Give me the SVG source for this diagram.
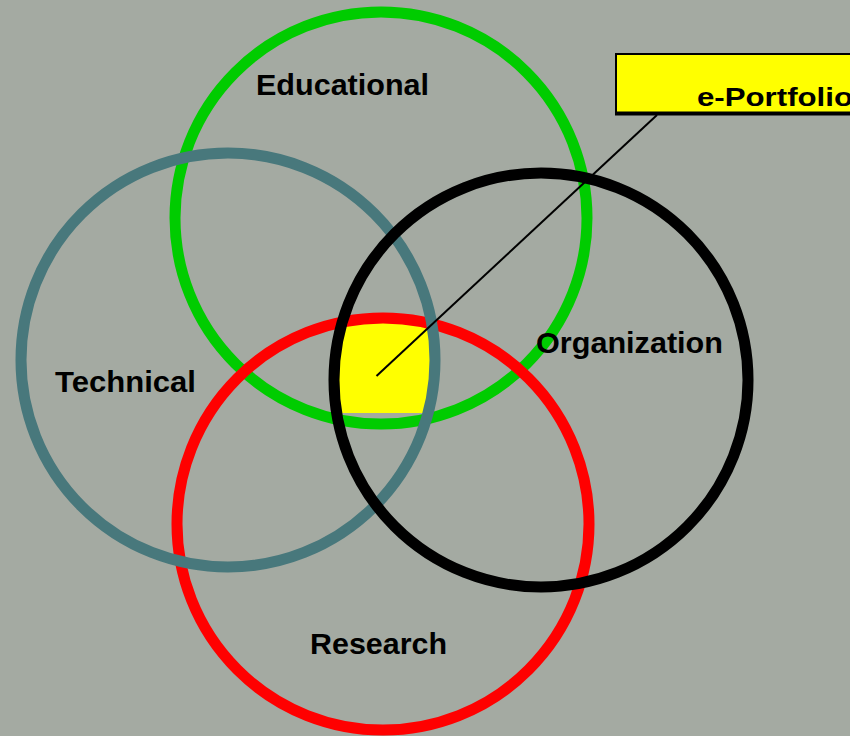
<svg xmlns="http://www.w3.org/2000/svg" width="850" height="736" viewBox="0 0 850 736">
<style>
.ring{fill:none;stroke-width:11}
.lbl{font-family:"Liberation Sans",Arial,sans-serif;font-weight:bold;font-size:30px;fill:#000}
</style>
<rect x="0" y="0" width="850" height="736" fill="#A4AAA2"/>
<g id="core">
<path d="M343,322 A206,206 0 0,1 431.8,323.8 A207,207 0 0,1 428.1,413 L336.6,413 A207,207 0 0,1 343,322 Z" fill="#FFFF00"/>
</g>
<g id="educational">
<circle class="ring" cx="381" cy="218" r="206" stroke="#00CC00"/>
<text class="lbl" x="256" y="95" textLength="173" lengthAdjust="spacingAndGlyphs">Educational</text>
</g>
<g id="research">
<circle class="ring" cx="383" cy="524" r="206" stroke="#FF0000"/>
<text class="lbl" x="310" y="654" textLength="137" lengthAdjust="spacingAndGlyphs">Research</text>
</g>
<g id="technical">
<circle class="ring" cx="228" cy="360" r="207" stroke="#48787C"/>
<text class="lbl" x="55" y="392" textLength="141" lengthAdjust="spacingAndGlyphs">Technical</text>
</g>
<g id="organization">
<circle class="ring" cx="541" cy="380" r="207" stroke="#000000" stroke-width="12"/>
<text class="lbl" x="536" y="353" textLength="187" lengthAdjust="spacingAndGlyphs">Organization</text>
</g>
<g id="eportfolio">
<rect x="616" y="54" width="260" height="59" fill="#FFFF00" stroke="#000" stroke-width="2"/>
<line x1="615" y1="113.5" x2="850" y2="113.5" stroke="#000" stroke-width="4"/>
<text x="697" y="106" font-family="'Liberation Sans',Arial,sans-serif" font-weight="bold" font-size="26" textLength="156" lengthAdjust="spacingAndGlyphs">e-Portfolio</text>
</g>
<g id="connectors">
<line x1="376.5" y1="376" x2="657" y2="115" stroke="#000" stroke-width="2"/>
</g>
</svg>
